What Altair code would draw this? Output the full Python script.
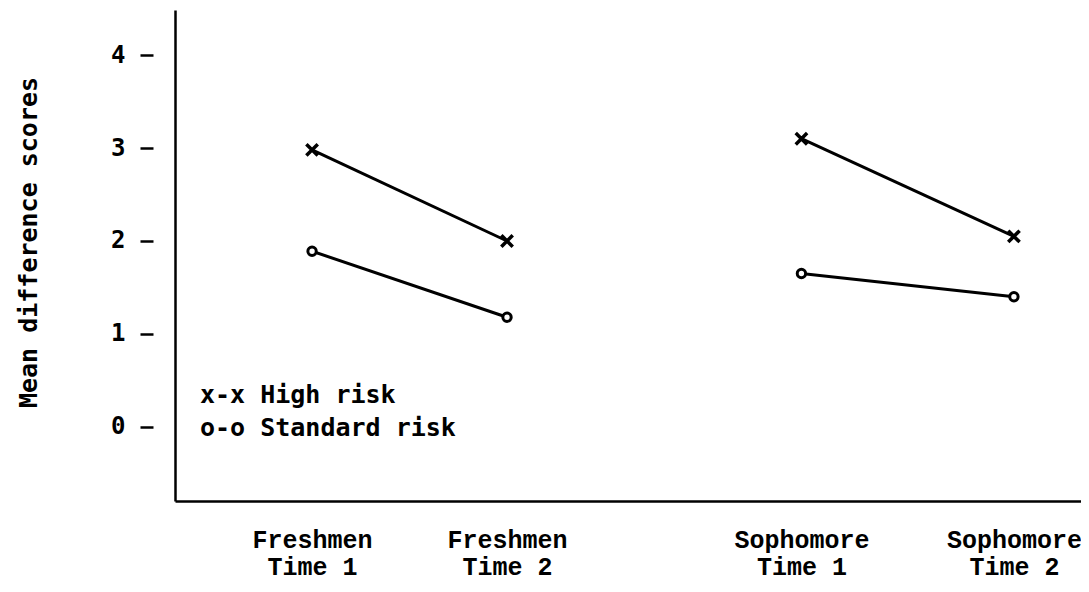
import altair as alt
import pandas as pd

# ---- data ----
cohorts = ["Freshmen", "Freshmen", "Sophomore", "Sophomore"]
times = ["Time 1", "Time 2", "Time 1", "Time 2"]
x_pos = [1.0, 2.0, 3.51, 4.6]          # horizontal placement of the four occasions
high_risk = [2.98, 2.0, 3.1, 2.05]
standard_risk = [1.89, 1.18, 1.65, 1.40]

label_text = [["Freshmen", "Time 1"], ["Freshmen", "Time 2"],
              ["Sophomore", "Time 1"], ["Sophomore", "Time 2"]]
y_ticks = [0, 1, 2, 3, 4]
legend_lines = ["x-x High risk", "o-o Standard risk"]

rows = []
for c, t, xp, h, s in zip(cohorts, times, x_pos, high_risk, standard_risk):
    rows.append({"cohort": c, "time": t, "x": xp, "value": h, "risk": "High risk", "grp": c + " High"})
    rows.append({"cohort": c, "time": t, "x": xp, "value": s, "risk": "Standard risk", "grp": c + " Std"})
df = pd.DataFrame(rows)

FONT = "DejaVu Sans Mono"
xscale = alt.Scale(domain=[0.297, 4.944], nice=False, zero=False)
yscale = alt.Scale(domain=[-0.796, 4.484], nice=False, zero=False)

# label expression built from the label lists
expr = ""
for p, lt in zip(x_pos, label_text):
    expr += f"abs(datum.value - {p}) < 0.01 ? {lt!r} : "
expr += "''"

base = alt.Chart(df)

lines = base.mark_line(color="black", strokeWidth=3).encode(
    x=alt.X("x:Q", scale=xscale,
            axis=alt.Axis(values=x_pos, labelExpr=expr, ticks=False, grid=False,
                          domain=True, domainColor="black", domainWidth=2.5,
                          labelFont="Liberation Mono", labelFontWeight="bold",
                          labelFontSize=25, labelColor="black", labelLineHeight=27,
                          labelPadding=46, labelBaseline="alphabetic", title=None)),
    y=alt.Y("value:Q", scale=yscale,
            axis=alt.Axis(orient="left", domain=True, domainColor="black", domainWidth=2.5,
                          ticks=False, labels=False, grid=False, title=None)),
    detail="grp:N",
)

highpts = base.transform_filter(alt.datum.risk == "High risk").mark_point(
    shape="M-1,-1L1,1M-1,1L1,-1", filled=False, color="black", strokeWidth=3.5,
    size=130, opacity=1,
).encode(
    x=alt.X("x:Q", scale=xscale),
    y=alt.Y("value:Q", scale=yscale,
            axis=alt.Axis(orient="left", offset=22, values=y_ticks, domain=False,
                          tickSize=13, tickWidth=2.5, tickColor="black",
                          labelFont=FONT, labelFontSize=24, labelFontWeight="bold",
                          labelColor="black", labelPadding=15, grid=False,
                          title="Mean difference scores", titleFont=FONT,
                          titleFontSize=25, titleFontWeight="bold", titleColor="black",
                          titleX=-125, titleY=232, titleAngle=-90,
                          titleAlign="center", titleBaseline="middle")),
)

stdpts = base.transform_filter(alt.datum.risk == "Standard risk").mark_point(
    shape="circle", filled=True, fill="white", color="black", stroke="black",
    strokeWidth=3, size=70, opacity=1,
).encode(
    x=alt.X("x:Q", scale=xscale),
    y=alt.Y("value:Q", scale=yscale, axis=None),
)

legend = alt.Chart(pd.DataFrame({"a": [0]})).mark_text(
    text=legend_lines, font=FONT, fontSize=25, fontWeight="bold", color="black",
    align="left", baseline="middle", lineHeight=33,
).encode(x=alt.value(25), y=alt.value(385))

chart = alt.layer(lines, highpts, stdpts, legend).resolve_axis(
    y="independent"
).properties(
    width=906, height=491,
    background="white",
    autosize=alt.AutoSizeParams(type="none"),
    padding={"left": 167, "top": 2, "right": 0, "bottom": 83},
).configure_view(stroke=None)

chart.save("out.html", embed_options={"renderer": "svg", "actions": False})
